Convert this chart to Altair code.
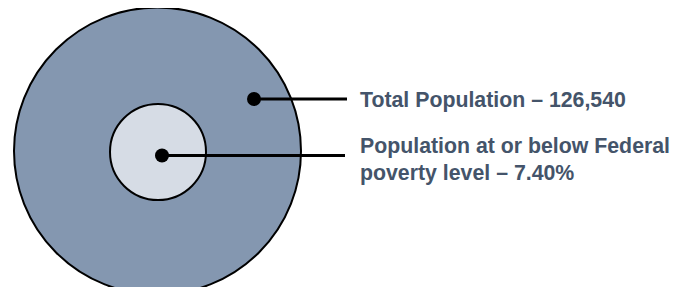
import altair as alt
import pandas as pd

# Chart content
categories = ["Total Population", "Population at or below Federal poverty level"]
values = ["126,540", "7.40%"]
label_lines = [
    ["Total Population – 126,540"],
    ["Population at or below Federal", "poverty level – 7.40%"],
]

# Diagram layout (in the chart's own 688 x 295 coordinate space)
circle_x = [157.5, 158]
circle_y = [151, 152]
circle_d = [287, 96]
circle_fill = ["#8497B0", "#D6DCE5"]

dot_x = [254, 162]
dot_y = [99, 155.5]
leader_end = [347, 345]
text_x = [360, 360]
text_y = [107, 153]

circles = pd.DataFrame({
    "category": categories,
    "x": circle_x,
    "y": circle_y,
    "size": [d * d for d in circle_d],
    "fill": circle_fill,
})
leaders = pd.DataFrame({
    "category": categories,
    "x": dot_x,
    "x2": leader_end,
    "y": dot_y,
})
labels = pd.DataFrame({
    "category": categories,
    "value": values,
    "text": label_lines,
    "x": text_x,
    "y": text_y,
})

xs = alt.Scale(domain=[0, 688], nice=False, zero=False)
ys = alt.Scale(domain=[0, 295], nice=False, zero=False, reverse=True)
X = lambda f: alt.X(f, type="quantitative", scale=xs, axis=None)
Y = lambda f: alt.Y(f, type="quantitative", scale=ys, axis=None)

circle_layer = alt.Chart(circles).mark_point(
    shape="circle", filled=True, stroke="#000000", strokeWidth=2, opacity=1
).encode(
    x=X("x"), y=Y("y"),
    size=alt.Size("size:Q", scale=None, legend=None),
    fill=alt.Fill("fill:N", scale=None, legend=None),
)

rule_layer = alt.Chart(leaders).mark_rule(color="#000000", strokeWidth=3).encode(
    x=X("x"), x2="x2", y=Y("y"),
)

dot_layer = alt.Chart(leaders).mark_point(
    shape="circle", filled=True, color="#000000", size=196, opacity=1
).encode(x=X("x"), y=Y("y"))

text_layer = alt.Chart(labels).mark_text(
    align="left", baseline="alphabetic", font="Liberation Sans",
    fontWeight="bold", fontSize=21.3, lineHeight=27, color="#44546A",
).encode(x=X("x"), y=Y("y"), text="text")

chart = alt.layer(circle_layer, rule_layer, dot_layer, text_layer).properties(
    width=688, height=295,
    padding={"left": -8, "top": -8, "right": -8, "bottom": -8},
    autosize=alt.AutoSizeParams(type="none"),
    background="#ffffff",
).configure_view(strokeWidth=0)

chart.save("out.html", embed_options={"renderer": "svg", "actions": False})
